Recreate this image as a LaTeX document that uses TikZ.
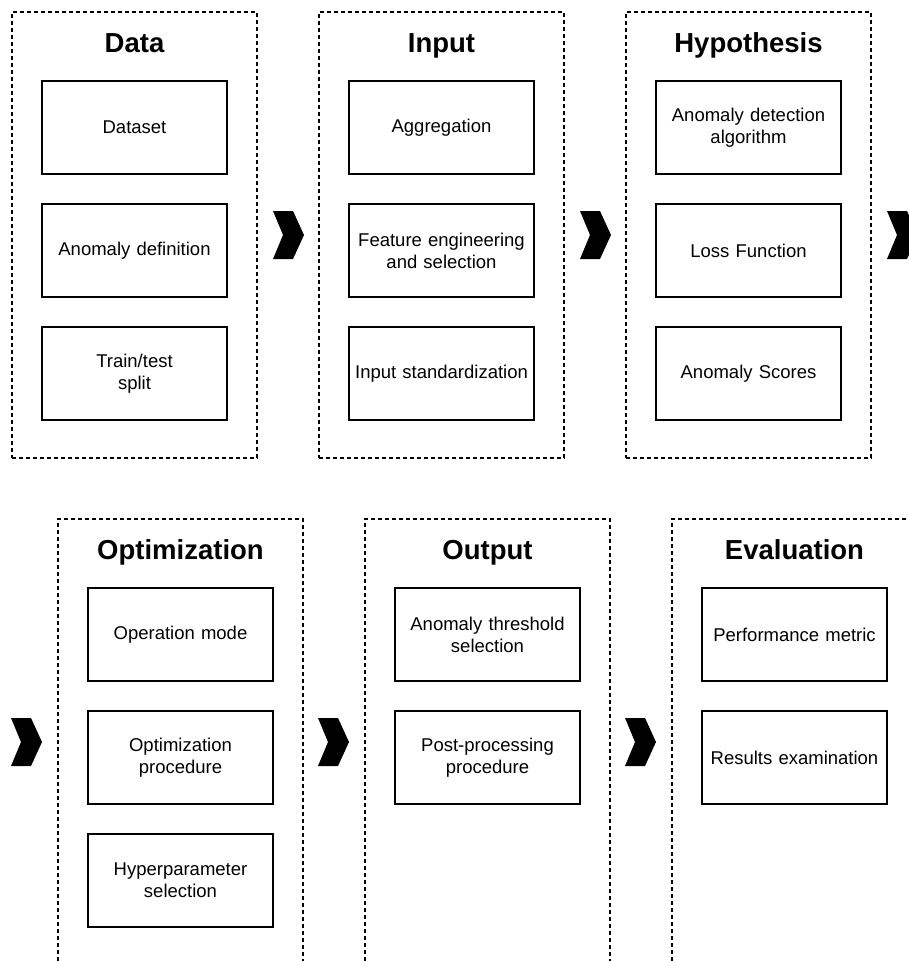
\documentclass[tikz,border=0pt]{standalone}
\usepackage{fontspec}
\setmainfont{Liberation Sans}
\begin{document}
\begin{tikzpicture}[x=1pt,y=-1pt,
  stage/.style={draw=black,line width=1.2pt,dash pattern=on 4pt off 3pt,
    minimum width=245pt,inner sep=0pt},
  task/.style={draw=black,line width=1.6pt,minimum width=185pt,minimum height=93pt,
    inner sep=2pt,align=center,text width=181pt,
    font=\fontsize{18.5}{22}\selectfont},
  title/.style={anchor=base,font=\fontsize{27.5}{33}\selectfont\bfseries},
  chev/.pic={\fill[black] (0,0) -- (20,0) -- (31,24) -- (20,48) -- (0,48) -- (10,24) -- cycle;}
]
\clip (0,0) rectangle (909,961);

% ---- top row stages ----
\node[stage,minimum height=446pt] (data) at (134.5,235) {};
\node[stage,minimum height=446pt] (input) at (441.5,235) {};
\node[stage,minimum height=446pt] (hyp) at (748.5,235) {};

\node[title] (tdata) at (134.5,52) {Data};
\node[title] (tinput) at (441.5,52) {Input};
\node[title] (thyp) at (748.5,52) {Hypothesis};

\node[task] (d1) at (134.5,127.5) {Dataset};
\node[task] (d2) at (134.5,250.5) {Anomaly definition};
\node[task] (d3) at (134.5,373.5) {Train/test\\split};

\node[task] (i1) at (441.5,127.5) {Aggregation};
\node[task] (i2) at (441.5,250.5) {Feature engineering\\and selection};
\node[task] (i3) at (441.5,373.5) {Input standardization};

\node[task] (h1) at (748.5,127.5) {Anomaly detection\\algorithm};
\node[task] (h2) at (748.5,250.5) {Loss Function};
\node[task] (h3) at (748.5,373.5) {Anomaly Scores};

% ---- bottom row stages (run past the lower edge) ----
\node[stage,minimum height=500pt] (opt) at (180.5,769) {};
\node[stage,minimum height=500pt] (out) at (487.5,769) {};
\node[stage,minimum height=500pt] (eval) at (794.5,769) {};

\node[title] (topt) at (180.5,559) {Optimization};
\node[title] (tout) at (487.5,559) {Output};
\node[title] (teval) at (794.5,559) {Evaluation};

\node[task] (o1) at (180.5,634.5) {Operation mode};
\node[task] (o2) at (180.5,757.5) {Optimization\\procedure};
\node[task] (o3) at (180.5,880.5) {Hyperparameter\\selection};

\node[task] (u1) at (487.5,634.5) {Anomaly threshold\\selection};
\node[task] (u2) at (487.5,757.5) {Post-processing\\procedure};

\node[task] (e1) at (794.5,634.5) {Performance metric};
\node[task] (e2) at (794.5,757.5) {Results examination};

% ---- chevrons between stages ----
\pic at (273,211) {chev};
\pic at (580,211) {chev};
\pic at (887,211) {chev};
\pic at (11,718) {chev};
\pic at (318,718) {chev};
\pic at (625,718) {chev};
\end{tikzpicture}
\end{document}
